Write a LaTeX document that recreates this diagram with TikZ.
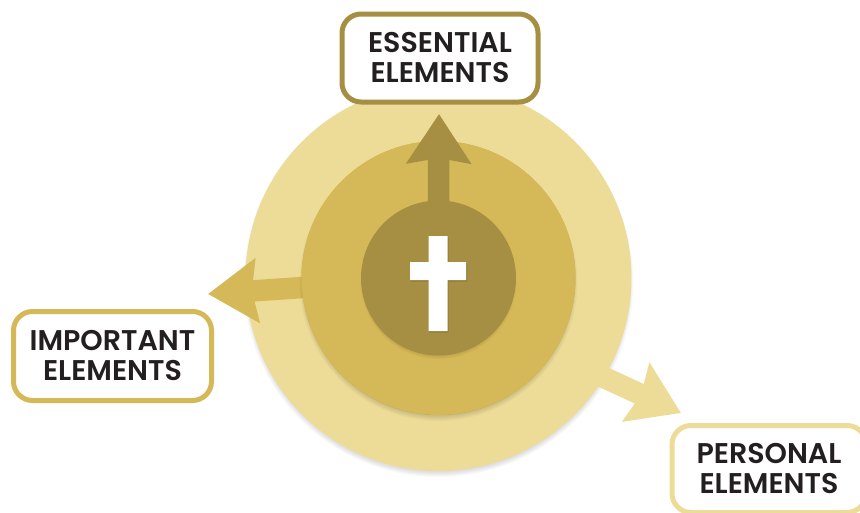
\documentclass[tikz,border=0pt]{standalone}
\usepackage{fontspec}
\usetikzlibrary{arrows.meta}
\newfontfamily\boxfont{Poppins SemiBold}
\definecolor{outergold}{HTML}{EDDC98}
\definecolor{middlegold}{HTML}{D5B857}
\definecolor{coregold}{HTML}{A68F43}
\definecolor{boxtext}{HTML}{231F20}

\begin{document}
\begin{tikzpicture}[
    x=1pt, y=-1pt,
    disc/.style={circle, inner sep=0, minimum size=#1},
    halo/.style={black, opacity=0.025},
    fatarrow/.style={line width=21.5pt, -{Stealth[length=49pt, width=63pt, inset=5pt]}},
    label/.style={rectangle, rounded corners=19pt, line width=5pt, fill=white, inner sep=0,
        align=center, text=boxtext, font={\boxfont\fontsize{28.5}{30}\selectfont}},
    ]

    \useasboundingbox (0, 0) rectangle (860, 512);
    \coordinate (center) at (438.5, 278);
    \coordinate (essential-tip) at (439, 114);
    \coordinate (important-tip) at (208, 294);
    \coordinate (personal-tip) at (681, 413);

    \foreach \g in {0, 1, ..., 9} {
        \fill [halo] ([yshift=-4pt]center) circle (186 + \g);
    }
    \node (outer) [disc=386pt, fill=outergold] at (center) {};
    \draw [fatarrow, outergold, shorten <=-12pt] (outer.-31) to (personal-tip);

    \node (middle) [disc=274pt, fill=middlegold] at (center) {};
    \draw [fatarrow, middlegold, shorten <=-12pt] (middle.184) to (important-tip);
    \foreach \g in {0, 1, ..., 9} {
        \fill [halo] ([yshift=-4pt]center) circle (130 + \g);
    }
    \fill [middlegold] (center) circle (137);
    \draw [fatarrow, coregold, shorten <=-12pt] (center |- 0, 202) to (essential-tip);

    \foreach \g in {0, 1, ..., 6} {
        \fill [halo] ([yshift=-3pt]center) circle (72 + \g);
    }
    \node (core) [disc=155pt, fill=coregold] at (center) {};

    % cross
    \fill [black, opacity=0.12] (429, 237) rectangle (448.5, 332.5) (410.5, 263) rectangle (467, 281.5);
    \fill [white] (428.5, 236) rectangle (447.5, 331) (410, 262) rectangle (466, 280);

    \node (essential) [label, draw=coregold, minimum width=196pt, minimum height=88pt] at (440, 58)
        {ESSENTIAL\\ELEMENTS};
    \node (important) [label, draw=middlegold, minimum width=198pt, minimum height=89pt] at (112.5, 356)
        {IMPORTANT\\ELEMENTS};
    \node (personal) [label, draw=outergold, minimum width=194pt, minimum height=87pt] at (769, 469)
        {PERSONAL\\ELEMENTS};
\end{tikzpicture}
\end{document}
